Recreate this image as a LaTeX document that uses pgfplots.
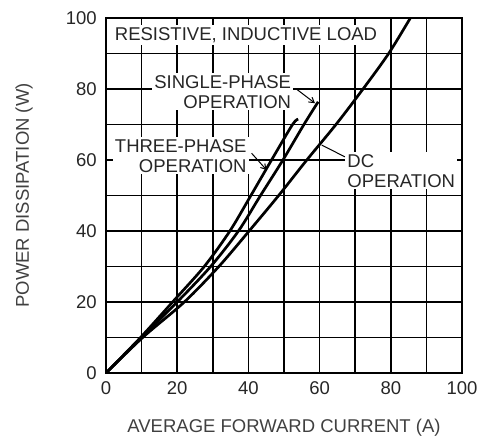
\documentclass[border=0pt]{standalone}
\usepackage{pgfplots}
\pgfplotsset{compat=1.18}
\usepackage{fontspec}
\setmainfont{Liberation Sans}
\usetikzlibrary{arrows.meta}

\begin{document}
\fontsize{18.5}{20}\selectfont
\begin{tikzpicture}
\useasboundingbox (-106pt,-66pt) rectangle (376pt,373pt);
\begin{axis}[
  at={(0,0)}, anchor=south west,
  scale only axis, width=356pt, height=355pt,
  xmin=0, xmax=100, ymin=0, ymax=100,
  xtick={0,10,...,100}, ytick={0,10,...,100},
  xticklabels={0,,20,,40,,60,,80,,100},
  yticklabels={0,,20,,40,,60,,80,,100},
  xmajorgrids=true, ymajorgrids=true,
  grid style={black, line width=1.5pt},
  major tick length=0pt,
  axis line style={line width=2.8pt},
  /pgf/number format/assume math mode=true,
  every tick label/.style={font=\fontsize{18.5}{20}\selectfont, text=black!85},
  xticklabel style={yshift=-2pt},
  yticklabel style={xshift=-3pt},
  xlabel={AVERAGE FORWARD CURRENT (A)},
  ylabel={POWER DISSIPATION (W)},
  every axis x label/.style={at={(axis description cs:0.5,0)}, yshift=-55pt, anchor=center, font=\fontsize{18.5}{20}\selectfont, text=black!75},
  every axis y label/.style={at={(axis description cs:0,0.5)}, xshift=-82pt, rotate=90, anchor=center, font=\fontsize{18.5}{20}\selectfont, text=black!75},
]
% DC operation
\addplot[black, line width=2.7pt, smooth, tension=0.5] coordinates {
  (0,0) (10.3,10) (22,20) (31.7,30) (40.2,40) (48.5,50) (56.4,60)
  (64.6,70) (72.2,80) (79.4,90) (85.5,100)
};
% single-phase operation
\addplot[black, line width=2.7pt, smooth, tension=0.5] coordinates {
  (0,0) (10,10) (20,20) (29.4,30) (37.2,40) (43.4,50) (49.7,60)
  (55.6,70) (59.6,76.4)
};
% three-phase operation
\addplot[black, line width=2.7pt, smooth, tension=0.5] coordinates {
  (0,0) (9.7,10) (18.7,20) (27.6,30) (34.8,40) (40.7,50) (46.5,60)
  (52.4,70) (54,71.5)
};

\node[fill=white, inner sep=2pt, anchor=west, text=black!85] at (axis cs:1.9,95.2) {RESISTIVE, INDUCTIVE LOAD};
\node[fill=white, inner sep=2pt, anchor=east, align=right, text=black!85] at (axis cs:52.6,79.2) {SINGLE-PHASE\\OPERATION};
\node[fill=white, inner sep=2pt, anchor=east, align=right, text=black!85] at (axis cs:40.1,61.2) {THREE-PHASE\\OPERATION};
\node[fill=white, inner sep=2pt, anchor=west, align=left, text=black!85] at (axis cs:67.2,57.0) {DC\\OPERATION};

\draw[line width=1pt, -{Straight Barb[length=5pt, width=6pt]}] (axis cs:53.6,79.9) -- (axis cs:58.7,76.0);
\draw[line width=1pt, -{Straight Barb[length=5pt, width=6pt]}] (axis cs:40.9,61.9) -- (axis cs:45.1,57.2);
\draw[line width=1pt] (axis cs:60.6,64.2) -- (axis cs:67.1,60.9);
\end{axis}
\end{tikzpicture}
\end{document}
